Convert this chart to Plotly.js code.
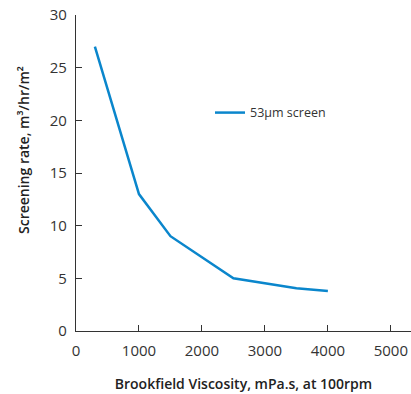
<!DOCTYPE html>
<html>
<head>
<meta charset="utf-8">
<script src="https://cdn.plot.ly/plotly-3.0.1.min.js"></script>
<style>html,body{margin:0;padding:0;background:#fff;}#chart{width:411px;height:394px;}</style>
</head>
<body>
<div id="chart"></div>
<script>
var viscosity = [300, 1000, 1500, 2000, 2500, 3500, 4000];
var screeningRate = [27, 13, 9, 7, 5, 4.05, 3.8];
var seriesName = "53μm screen";
var xTicks = [0, 1000, 2000, 3000, 4000, 5000];
var yTicks = [0, 5, 10, 15, 20, 25, 30];
var xTitle = "Brookfield Viscosity, mPa.s, at 100rpm";
var yTitle = "Screening rate, m³/hr/m²";

var trace = {
  x: viscosity, y: screeningRate, name: seriesName,
  type: "scatter", mode: "lines",
  line: {color: "#0a86cc", width: 2.5},
  showlegend: true
};
var font = "'Open Sans', 'Noto Sans', sans-serif";
var layout = {
  width: 411, height: 394,
  margin: {l: 76, r: 0, t: 15, b: 63},
  paper_bgcolor: "#fff", plot_bgcolor: "#fff",
  font: {family: font, color: "#333", size: 15},
  showlegend: true,
  legend: {x: 0.4, y: 0.69, xanchor: "left", yanchor: "middle", bgcolor: "rgba(0,0,0,0)",
           font: {size: 12.5, color: "#333", family: font}},
  xaxis: {
    range: [0, 5320], tickvals: xTicks, ticktext: xTicks.map(String),
    showgrid: false, zeroline: false, showline: true, linecolor: "#333", linewidth: 1.2,
    ticks: "inside", ticklen: 6, tickcolor: "#333", tickfont: {size: 15, color: "#333"},
    ticklabelstandoff: 6,
    title: {text: xTitle, font: {size: 14, color: "#222", weight: 600}, standoff: 20}
  },
  yaxis: {
    range: [0, 30], tickvals: yTicks, ticktext: yTicks.map(String),
    showgrid: false, zeroline: false, showline: true, linecolor: "#333", linewidth: 1.2,
    ticks: "inside", ticklen: 6, tickcolor: "#333", tickfont: {size: 15, color: "#333"},
    ticklabelstandoff: 5
  },
  annotations: [{
    text: yTitle, xref: "paper", yref: "paper", x: -0.155, y: 0.573,
    xanchor: "center", yanchor: "middle", textangle: -90, showarrow: false,
    font: {size: 14, color: "#222", family: font, weight: 600}
  }]
};
Plotly.newPlot("chart", [trace], layout, {displayModeBar: false, staticPlot: true});
</script>
</body>
</html>
